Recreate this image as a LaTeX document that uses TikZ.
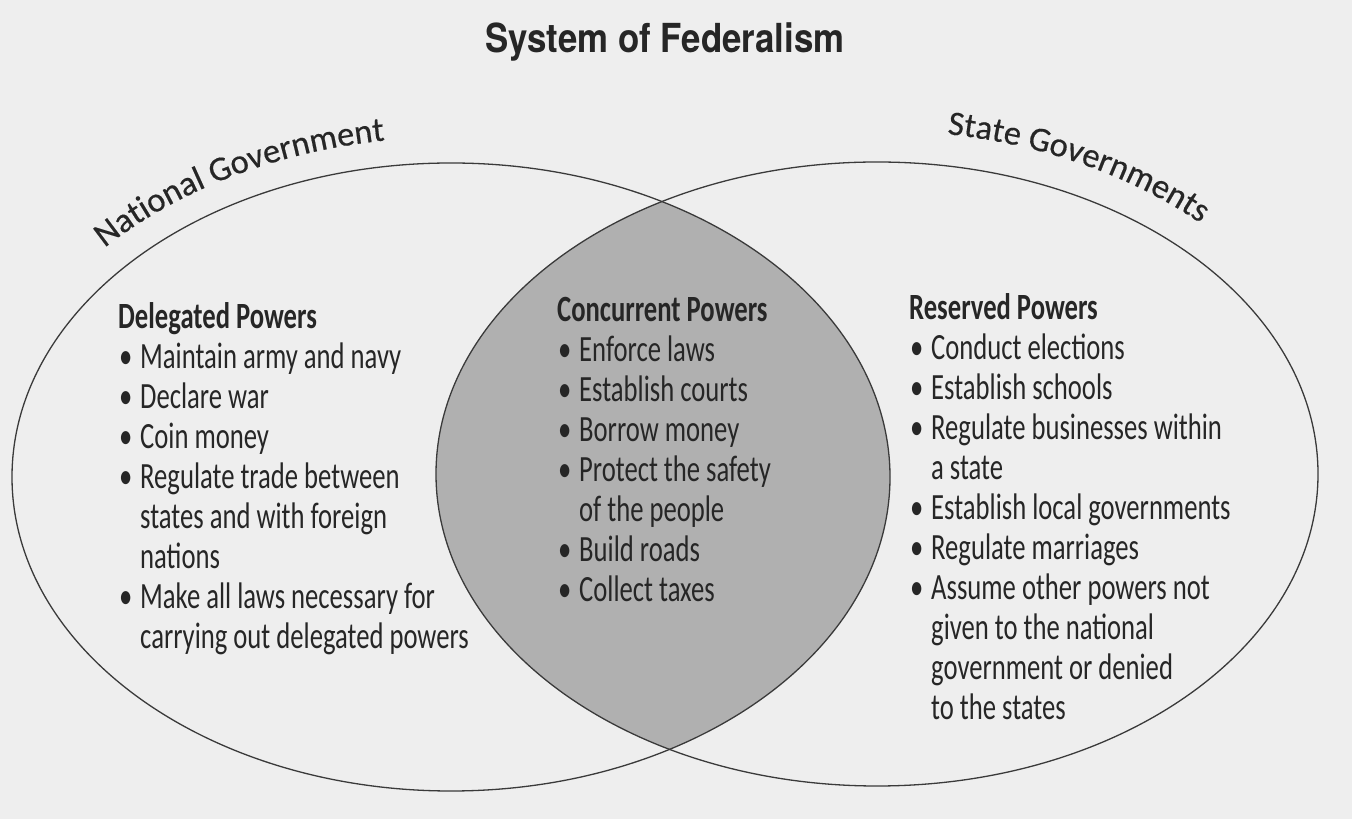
\documentclass[tikz,border=0pt]{standalone}
\usepackage{fontspec}
\setmainfont{Carlito}[FakeStretch=0.72]
\newfontfamily\lblfont{Carlito}[FakeBold=0.4]
\newfontfamily\ttlfont{TeX Gyre Heros}[FakeStretch=0.87]
\usetikzlibrary{decorations.text}
\definecolor{bgc}{HTML}{EEEEEE}
\definecolor{lensc}{HTML}{B0B0B0}
\definecolor{inkc}{HTML}{262626}
\definecolor{linec}{HTML}{3A3A3A}
\newcommand{\itm}[1]{\hspace*{1pt}\makebox[21pt][l]{\textbullet}#1}
\newcommand{\cnt}[1]{\hspace*{22pt}#1}
\newcommand{\blk}[1]{\parbox[t]{420pt}{\raggedright\fontsize{37}{40}\selectfont #1}}
\begin{document}
\begin{tikzpicture}[x=1pt,y=1pt,
  txt/.style={inner sep=0pt, anchor=base west, text=inkc},
  ring/.style={draw=linec, line width=1.3pt}]
\useasboundingbox (0,0) rectangle (1352,819);
\fill[bgc] (0,0) rectangle (1352,819);
\begin{scope}
  \clip (451,342) ellipse [x radius=439, y radius=314];
  \fill[lensc] (877,345) ellipse [x radius=441, y radius=312];
\end{scope}
\draw[ring] (451,342) ellipse [x radius=439, y radius=314];
\draw[ring] (877,345) ellipse [x radius=441, y radius=312];
\node[txt, anchor=base] (title) at (665,766) {\ttlfont\bfseries\fontsize{40}{44}\selectfont System of Federalism};
\path[decorate, decoration={text along path, text align=center,
  text={|\lblfont\fontsize{34.5}{40}\selectfont\color{inkc}|National Government}}]
  (452,342) ++(145:470 and 340) arc[start angle=145, end angle=92, x radius=470, y radius=340];
\path[decorate, decoration={text along path, text align=center,
  text={|\lblfont\fontsize{34.5}{40}\selectfont\color{inkc}|State Governments}}]
  (879,347.5) ++(90:469 and 341) arc[start angle=90, end angle=37, x radius=469, y radius=341];
\node[txt] (dlg) at (118,490) {\blk{\textbf{Delegated Powers}\\
  \itm{Maintain army and navy}\\
  \itm{Declare war}\\
  \itm{Coin money}\\
  \itm{Regulate trade between}\\
  \cnt{states and with foreign}\\
  \cnt{nations}\\
  \itm{Make all laws necessary for}\\
  \cnt{carrying out delegated powers}}};
\node[txt] (ccr) at (557,497) {\blk{\textbf{Concurrent Powers}\\
  \itm{Enforce laws}\\
  \itm{Establish courts}\\
  \itm{Borrow money}\\
  \itm{Protect the safety}\\
  \cnt{of the people}\\
  \itm{Build roads}\\
  \itm{Collect taxes}}};
\node[txt] (rsv) at (909,499) {\blk{\textbf{Reserved Powers}\\
  \itm{Conduct elections}\\
  \itm{Establish schools}\\
  \itm{Regulate businesses within}\\
  \cnt{a state}\\
  \itm{Establish local governments}\\
  \itm{Regulate marriages}\\
  \itm{Assume other powers not}\\
  \cnt{given to the national}\\
  \cnt{government or denied}\\
  \cnt{to the states}}};
\end{tikzpicture}
\end{document}
